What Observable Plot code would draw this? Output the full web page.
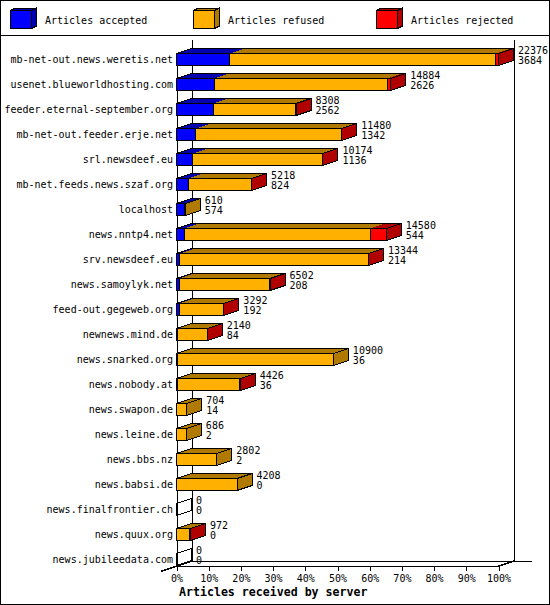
<!DOCTYPE html>
<html><head><meta charset="utf-8">
<script src="https://cdn.jsdelivr.net/npm/d3@7"></script>
<script src="https://cdn.jsdelivr.net/npm/@observablehq/plot@0.6"></script>
<style>
html,body{margin:0;padding:0;background:#fff;}
#chart{position:relative;width:550px;height:605px;overflow:hidden;font-family:'DejaVu Sans Mono',monospace;background:#fff;color:#000;}
.border{position:absolute;left:0;top:0;width:550px;height:605px;box-sizing:border-box;border:1px solid #000;pointer-events:none;}
.sep{position:absolute;left:0;top:35px;width:550px;height:1px;background:#000;}
.leg{position:absolute;top:13.5px;font-size:10px;line-height:14px;white-space:pre;}
.legsvg{position:absolute;left:0;top:0;}
.title{position:absolute;left:179px;top:585px;font-weight:bold;font-size:11.6px;line-height:14px;white-space:pre;}
</style></head>
<body><div id="chart"></div>
<script>
const servers = [
  "mb-net-out.news.weretis.net",
  "usenet.blueworldhosting.com",
  "feeder.eternal-september.org",
  "mb-net-out.feeder.erje.net",
  "srl.newsdeef.eu",
  "mb-net.feeds.news.szaf.org",
  "localhost",
  "news.nntp4.net",
  "srv.newsdeef.eu",
  "news.samoylyk.net",
  "feed-out.gegeweb.org",
  "newnews.mind.de",
  "news.snarked.org",
  "news.nobody.at",
  "news.swapon.de",
  "news.leine.de",
  "news.bbs.nz",
  "news.babsi.de",
  "news.finalfrontier.ch",
  "news.quux.org",
  "news.jubileedata.com"
];
const totals   = [22376, 14884, 8308, 11480, 10174, 5218, 610, 14580, 13344, 6502, 3292, 2140, 10900, 4426, 704, 686, 2802, 4208, 0, 972, 0];
const accepted = [3684, 2626, 2562, 1342, 1136, 824, 574, 544, 214, 208, 192, 84, 36, 36, 14, 2, 2, 0, 0, 0, 0];
const refused  = [18492, 12008, 5716, 10098, 8988, 4374, 36, 12936, 13100, 6274, 3080, 2046, 10864, 4370, 690, 684, 2800, 4208, 0, 912, 0];
const rejected = [200, 250, 30, 40, 50, 20, 0, 1100, 30, 20, 20, 10, 0, 20, 0, 0, 0, 0, 0, 60, 0];
const seriesNames = ["Articles accepted", "Articles refused", "Articles rejected"];
const frontColors = ["#0000ff", "#ffb000", "#ff0000"];
const darkColors  = ["#0000b0", "#b07900", "#b00000"];
const xTicks = [0, 10, 20, 30, 40, 50, 60, 70, 80, 90, 100];
const axisTitle = "Articles received by server";

const chart = document.getElementById("chart");

// legend (3D boxes)
const legBoxX = [10.5, 193.5, 376.5];
const legTextX = [45, 228, 411];
let legSvg = '<svg class="legsvg" width="550" height="35" style="shape-rendering:crispEdges">';
seriesNames.forEach((name, k) => {
  const bx = legBoxX[k], w = 21, h = 18, t = 10.5, ox = 5, oy = 2.5;
  legSvg += `<rect x="${bx}" y="${t}" width="${w}" height="${h}" fill="${frontColors[k]}" stroke="#000"/>`;
  legSvg += `<polygon points="${bx},${t} ${bx+w},${t} ${bx+w+ox},${t-oy} ${bx+ox},${t-oy}" fill="${darkColors[k]}" stroke="#000"/>`;
  legSvg += `<polygon points="${bx+w},${t} ${bx+w+ox},${t-oy} ${bx+w+ox},${t+h-oy} ${bx+w},${t+h}" fill="${darkColors[k]}" stroke="#000"/>`;
});
legSvg += '</svg>';
chart.insertAdjacentHTML("beforeend", legSvg);
seriesNames.forEach((name, k) => {
  const d = document.createElement("div");
  d.className = "leg"; d.style.left = legTextX[k] + "px"; d.textContent = name;
  chart.appendChild(d);
});

// geometry of the 3D chart
const maxTotal = d3.max(totals);
const pct = v => v / maxTotal * 100;
const X0 = 176.5, X1 = 498.5, Y0 = 59.5, STEP = 25;
const n = servers.length;
const D = 15 * 100 / (X1 - X0);   // depth in x units (15px)
const DY = 5 / STEP;              // depth in y units (5px)
const H = 6 / STEP;               // half bar height
const floor = (n - 1) + H;
const wallTop = (40 - Y0) / STEP;
const floorExt = 100 + D + 18 * 100 / (X1 - X0);

const rows = servers.map((s, i) => ({i, s, total: totals[i], acc: accepted[i], vals: [accepted[i], refused[i], rejected[i]]}));
const segs = [], tops = [], outlines = [], sides = [];
rows.forEach(r => {
  let a = 0, last = -1;
  r.vals.forEach((v, k) => {
    const b = a + pct(v);
    if (v > 0) {
      segs.push({i: r.i, x1: a, x2: b, fill: frontColors[k]});
      const id = r.i * 3 + k;
      tops.push({id, y: r.i - H, x1: a, x2: b, fill: darkColors[k]},
                {id, y: r.i - H - DY, x1: a + D, x2: b + D, fill: darkColors[k]});
      last = k;
    }
    a = b;
  });
  r.end = a;
  outlines.push({i: r.i, y: r.i - H, x1: 0, x2: a}, {i: r.i, y: r.i - H - DY, x1: D, x2: a + D});
  const f = last >= 0 ? darkColors[last] : "none";
  sides.push({i: r.i, x: a, y1: r.i - H, y2: r.i + H, fill: f},
             {i: r.i, x: a + D, y1: r.i - H - DY, y2: r.i + H - DY, fill: f});
});

const plot = Plot.plot({
  width: 550, height: 605, margin: 0,
  x: {domain: [0, 100], range: [X0, X1], axis: null},
  y: {domain: [0, n - 1], range: [Y0, Y0 + STEP * (n - 1)], axis: null},
  color: {type: "identity"},
  style: {position: "absolute", left: "0px", top: "0px", background: "transparent",
          fontFamily: "'DejaVu Sans Mono', monospace", fontSize: "10px", color: "#000",
          shapeRendering: "crispEdges"},
  marks: [
    Plot.ruleX([D, 100 + D], {y1: wallTop, y2: floor - DY, stroke: "#000"}),
    Plot.ruleY([floor - DY], {x1: D, x2: floorExt, stroke: "#000"}),
    Plot.ruleX([0], {y1: -H, y2: floor + DY, stroke: "#000"}),
    Plot.ruleY([floor], {x1: 0, x2: 100, stroke: "#000"}),
    Plot.line([[-D, floor + DY], [D, floor - DY]], {stroke: "#000"}),
    Plot.line([[100, floor], [100 + D, floor - DY]], {stroke: "#000"}),
    Plot.ruleX(xTicks, {y1: floor, y2: floor + DY, stroke: "#000"}),
    Plot.text(xTicks, {x: d => d, y: floor, dy: 12.5, text: d => d + "%", fill: "#000"}),
    Plot.rect(segs, {x1: "x1", x2: "x2", y1: d => d.i - H, y2: d => d.i + H, fill: "fill", stroke: "#000"}),
    Plot.areaX(tops, {x1: "x1", x2: "x2", y: "y", z: "id", fill: "fill"}),
    Plot.areaX(outlines, {x1: "x1", x2: "x2", y: "y", z: "i", fill: "none", stroke: "#000"}),
    Plot.areaY(sides, {x: "x", y1: "y1", y2: "y2", z: "i", fill: "fill", stroke: "#000"}),
    Plot.text(rows, {x: 0, y: "i", dx: -4, textAnchor: "end", text: "s", fill: "#000"}),
    Plot.text(rows, {x: d => d.end + D, y: "i", dx: 4, dy: -9, textAnchor: "start", text: d => String(d.total), fill: "#000"}),
    Plot.text(rows, {x: d => d.end + D, y: "i", dx: 4, dy: 1, textAnchor: "start", text: d => String(d.acc), fill: "#000"})
  ]
});
chart.appendChild(plot);

const t = document.createElement("div");
t.className = "title"; t.textContent = axisTitle;
chart.appendChild(t);
chart.insertAdjacentHTML("beforeend", '<div class="sep"></div><div class="border"></div>');
</script>
</body></html>
